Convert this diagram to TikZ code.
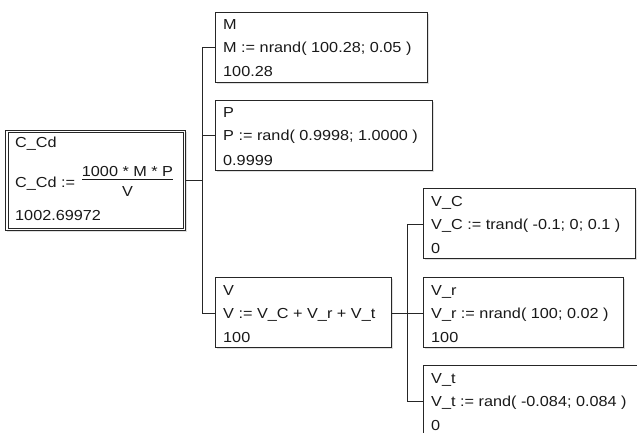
\documentclass[tikz,border=0pt]{standalone}
\usepackage{fontspec}
\setmainfont{Liberation Sans}[FakeStretch=1.12]
\usetikzlibrary{calc,shadows}
\begin{document}
\begin{tikzpicture}[x=1pt,y=-1pt,
  box/.style={draw=black!85, line width=1.2pt, fill=white, anchor=north west, inner sep=0pt,
    minimum height=70pt, drop shadow={opacity=0.25, shadow xshift=1.5pt, shadow yshift=-1.5pt}},
  txt/.style={anchor=base west, inner sep=0pt, font=\fontsize{14.5}{16}\selectfont, text=black!90},
  ctxt/.style={anchor=center, inner sep=0pt, font=\fontsize{14.5}{16}\selectfont, text=black!90},
  wire/.style={draw=black!85, line width=1pt}]
\useasboundingbox (0,0) rectangle (637,433);
\clip (0,0) rectangle (637,433);
\fill[white] (0,0) rectangle (637,433);

% main node C_Cd
\node[box, minimum width=180pt, minimum height=100pt] (ccd) at (5,130) {};
\draw[black!85, line width=1pt] ($(ccd.north west)+(3,3)$) rectangle ($(ccd.south east)+(-3,-3)$);
\node[txt] (ccdn) at ($(ccd.north west)+(10,18)$) {C\_Cd};
\node[txt] (ccdf) at ($(ccd.north west)+(10,57)$) {C\_Cd :=};
\node[ctxt] (num) at ($(ccd.north west)+(122.5,42)$) {1000 * M * P};
\node[ctxt] (den) at ($(ccd.north west)+(122.5,62)$) {V};
\draw[black!90, line width=1pt] ($(ccd.north west)+(77,49)$) -- ($(ccd.north west)+(168,49)$);
\node[txt] (ccdv) at ($(ccd.north west)+(10,90)$) {1002.69972};

% first level
\node[box, minimum width=212pt] (m) at (215,12) {};
\node[txt] at ($(m.north west)+(8,18)$) {M};
\node[txt] at ($(m.north west)+(8,41)$) {M := nrand( 100.28; 0.05 )};
\node[txt] at ($(m.north west)+(8,65)$) {100.28};

\node[box, minimum width=217pt] (p) at (215,100) {};
\node[txt] at ($(p.north west)+(8,18)$) {P};
\node[txt] at ($(p.north west)+(8,41)$) {P := rand( 0.9998; 1.0000 )};
\node[txt] at ($(p.north west)+(8,65)$) {0.9999};

\node[box, minimum width=176pt] (v) at (215,277) {};
\node[txt] at ($(v.north west)+(8,18)$) {V};
\node[txt] at ($(v.north west)+(8,41)$) {V := V\_C + V\_r + V\_t};
\node[txt] at ($(v.north west)+(8,65)$) {100};

% second level
\node[box, minimum width=212pt] (vc) at (423,188) {};
\node[txt] at ($(vc.north west)+(8,18)$) {V\_C};
\node[txt] at ($(vc.north west)+(8,41)$) {V\_C := trand( -0.1; 0; 0.1 )};
\node[txt] at ($(vc.north west)+(8,65)$) {0};

\node[box, minimum width=200pt] (vr) at (423,277) {};
\node[txt] at ($(vr.north west)+(8,18)$) {V\_r};
\node[txt] at ($(vr.north west)+(8,41)$) {V\_r := nrand( 100; 0.02 )};
\node[txt] at ($(vr.north west)+(8,65)$) {100};

\node[box, minimum width=250pt, minimum height=90pt] (vt) at (423,365) {};
\node[txt] at ($(vt.north west)+(8,18)$) {V\_t};
\node[txt] at ($(vt.north west)+(8,41)$) {V\_t := rand( -0.084; 0.084 )};
\node[txt] at ($(vt.north west)+(8,65)$) {0};

% connectors
\coordinate (t1) at (202,0);
\coordinate (t2) at (407,0);
\coordinate (mc) at ($(m.north west)+(0,36)$);
\coordinate (pc) at ($(p.north west)+(0,36)$);
\coordinate (vlc) at ($(v.north west)+(0,36)$);
\coordinate (vrc) at ($(v.north east)+(0,36)$);
\coordinate (vcc) at ($(vc.north west)+(0,36)$);
\coordinate (vtc) at ($(vt.north west)+(0,36)$);

\draw[wire] (ccd.east) -- (ccd.east -| t1);
\draw[wire] (mc) -- (mc -| t1) -- (vlc -| t1) -- (vlc);
\draw[wire] (pc -| t1) -- (pc);
\draw[wire] (vrc) -- (vrc -| vr.west);
\draw[wire] (vcc) -- (vcc -| t2) -- (vtc -| t2) -- (vtc);
\end{tikzpicture}
\end{document}
